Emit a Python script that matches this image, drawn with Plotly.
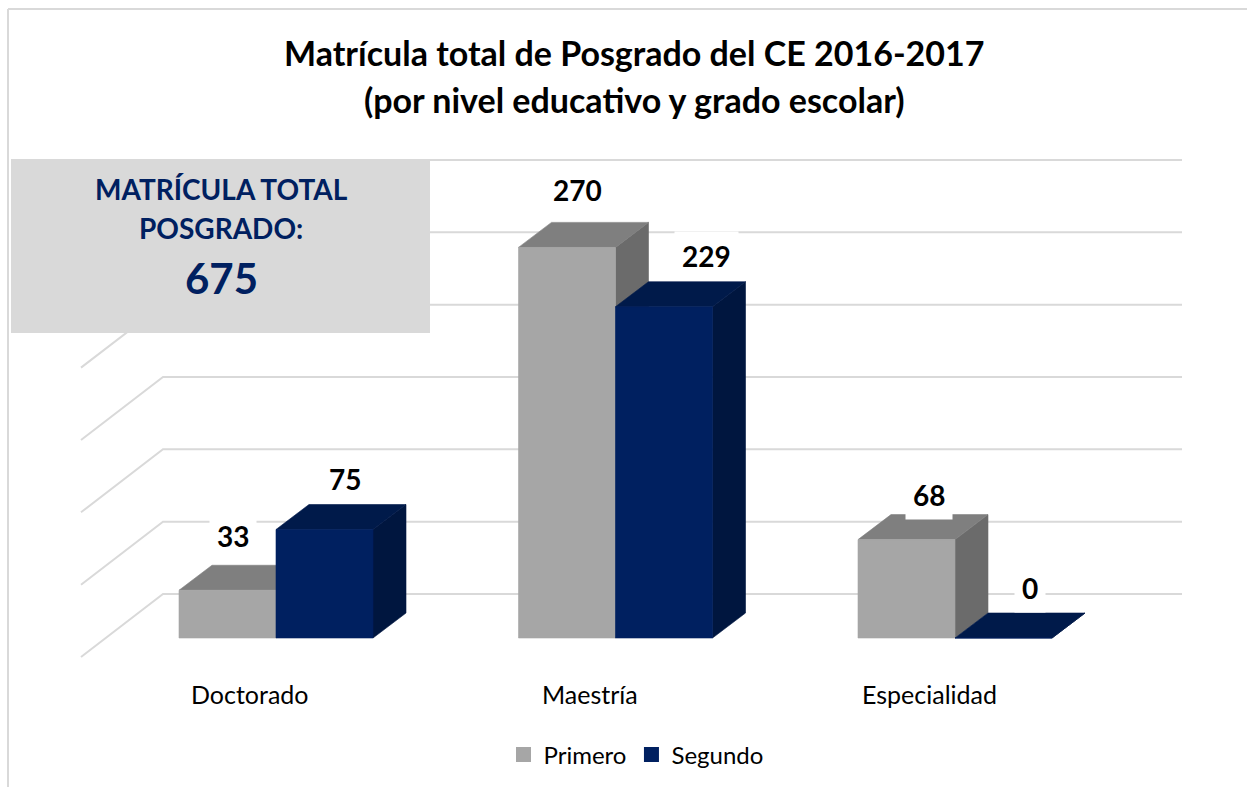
import plotly.graph_objects as go

# ---------------- data ----------------
categories = ["Doctorado", "Maestría", "Especialidad"]
series_names = ["Primero", "Segundo"]
primero = [33, 270, 68]
segundo = [75, 229, 0]
total_value = 675
grid_values = [0, 50, 100, 150, 200, 250, 300]
title_lines = ["Matrícula total de Posgrado del CE 2016-2017",
               "(por nivel educativo y grado escolar)"]
box_lines = ["MATRÍCULA TOTAL", "POSGRADO:"]

# ---------------- styles / geometry (pixels) ----------------
W, H = 1247, 787
FONT = "Lato"
front_colors = ["#A6A6A6", "#002060"]
top_colors = ["#7F7F7F", "#001A4A"]
side_colors = ["#6B6B6B", "#00163F"]
GRID_COLOR = "#D9D9D9"
NAVY = "#002060"

CAT0_PX = 276.0        # pixel x of first category centre
CAT_STEP_PX = 339.5    # pixel distance between categories
BASE_PX = 638.0        # pixel y of bar front base
PX_PER_UNIT = 1.4467   # pixels per value unit
BAR_W_PX = 97.0
DEPTH_DX_PX, DEPTH_DY_PX = 33.0, 25.0      # bar depth
WALL_DX_PX, WALL_DY_PX = 58.0, 44.0        # bar front -> back wall
FLOOR_DX_PX, FLOOR_DY_PX = 82.0, 63.0      # back wall -> floor front
WALL_LEFT_PX, WALL_RIGHT_PX = 163.0, 1182.0

# per-label pixel nudges (x right, y up) relative to the back-top of each bar
label_shift = [[(5, 29), (20, 26)], [(10, 32), (42, 26)], [(22, 20), (26, 25)]]
CAT_LABEL_SHIFT_PX = -26

# axis ranges so that data units map to the pixel grid
x_range = [(0 - CAT0_PX) / CAT_STEP_PX, (W - CAT0_PX) / CAT_STEP_PX]
y_range = [(BASE_PX - H) / PX_PER_UNIT, BASE_PX / PX_PER_UNIT]

bw = BAR_W_PX / CAT_STEP_PX
ddx = DEPTH_DX_PX / CAT_STEP_PX
ddy = DEPTH_DY_PX / PX_PER_UNIT
wdx = WALL_DX_PX / CAT_STEP_PX
wdy = WALL_DY_PX / PX_PER_UNIT
fdx = FLOOR_DX_PX / CAT_STEP_PX
fdy = FLOOR_DY_PX / PX_PER_UNIT
wall_left = (WALL_LEFT_PX - CAT0_PX) / CAT_STEP_PX
wall_right = (WALL_RIGHT_PX - CAT0_PX) / CAT_STEP_PX

def px(xp):
    return xp / W

def py(yp):
    return 1 - yp / H

fig = go.Figure()

# ---------------- gridlines (back wall + side wall) ----------------
gx, gy = [], []
for v in grid_values:
    yb = v + wdy
    gx += [wall_right, wall_left, wall_left - fdx, None]
    gy += [yb, yb, yb - fdy, None]
fig.add_trace(go.Scatter(x=gx, y=gy, mode="lines",
                         line=dict(color=GRID_COLOR, width=2),
                         hoverinfo="skip", showlegend=False))

# ---------------- 3D bars ----------------
series = [primero, segundo]
for s, vals in enumerate(series):
    for i, v in enumerate(vals):
        xl = i - bw + s * bw
        xr = xl + bw
        faces = [
            ([xr, xr + ddx, xr + ddx, xr, xr], [0, ddy, v + ddy, v, 0], side_colors[s]),
            ([xl, xr, xr + ddx, xl + ddx, xl], [v, v, v + ddy, v + ddy, v], top_colors[s]),
            ([xl, xr, xr, xl, xl], [0, 0, v, v, 0], front_colors[s]),
        ]
        for fx, fy, col in faces:
            fig.add_trace(go.Scatter(x=fx, y=fy, mode="lines", fill="toself",
                                     fillcolor=col, line=dict(color=col, width=0.6),
                                     hoverinfo="skip", showlegend=False))

# legend entries
for s, name in enumerate(series_names):
    fig.add_trace(go.Scatter(x=[None], y=[None], mode="markers", name=name,
                             marker=dict(symbol="square", size=15, color=front_colors[s])))

annotations = []
# data labels
for s, vals in enumerate(series):
    for i, v in enumerate(vals):
        xc = i - bw + s * bw + bw / 2
        sx, sy = label_shift[i][s]
        annotations.append(dict(
            x=xc, y=v + ddy, xref="x", yref="y", text=f"<b>{v}</b>",
            showarrow=False, xshift=sx, yshift=sy, xanchor="center",
            font=dict(family=FONT, size=28, color="#000000"),
            bgcolor="#FFFFFF", borderpad=7))

# category labels
for i, c in enumerate(categories):
    annotations.append(dict(
        x=i, y=py(694), xref="x", yref="paper", text=c, showarrow=False,
        xshift=CAT_LABEL_SHIFT_PX, xanchor="center", yanchor="middle",
        font=dict(family=FONT, size=25, color="#000000")))

# title
for line, ypx in zip(title_lines, [52, 100]):
    annotations.append(dict(
        x=px(634), y=py(ypx), xref="paper", yref="paper", text=f"<b>{line}</b>",
        showarrow=False, xanchor="center", yanchor="middle",
        font=dict(family=FONT, size=34, color="#000000")))

# total box text
for line, ypx in zip(box_lines, [189, 228]):
    annotations.append(dict(
        x=px(221), y=py(ypx), xref="paper", yref="paper", text=f"<b>{line}</b>",
        showarrow=False, xanchor="center", yanchor="middle",
        font=dict(family=FONT, size=28, color=NAVY)))
annotations.append(dict(
    x=px(221), y=py(278), xref="paper", yref="paper", text=f"<b>{total_value}</b>",
    showarrow=False, xanchor="center", yanchor="middle",
    font=dict(family=FONT, size=42, color=NAVY)))

shapes = [
    # chart border
    dict(type="line", xref="paper", yref="paper", x0=px(8), x1=px(W), y0=py(9), y1=py(9),
         line=dict(color=GRID_COLOR, width=2)),
    dict(type="line", xref="paper", yref="paper", x0=px(8), x1=px(8), y0=py(9), y1=py(H),
         line=dict(color=GRID_COLOR, width=2)),
    # total box
    dict(type="rect", xref="paper", yref="paper", x0=px(11), x1=px(430), y0=py(159), y1=py(333),
         fillcolor="#D9D9D9", line=dict(width=0), layer="above"),
]

fig.update_layout(
    width=W, height=H,
    margin=dict(l=0, r=0, t=0, b=0),
    paper_bgcolor="#FFFFFF", plot_bgcolor="#FFFFFF",
    xaxis=dict(range=x_range, visible=False, fixedrange=True),
    yaxis=dict(range=y_range, visible=False, fixedrange=True),
    showlegend=True,
    legend=dict(orientation="h", x=px(636), xanchor="center", y=py(755), yanchor="middle",
                font=dict(family=FONT, size=24, color="#000000"),
                bgcolor="rgba(0,0,0,0)", itemwidth=30),
    annotations=annotations,
    shapes=shapes,
)

fig.write_html("out.html", config={"displayModeBar": False},
               post_script="document.body.style.margin='0px';")
